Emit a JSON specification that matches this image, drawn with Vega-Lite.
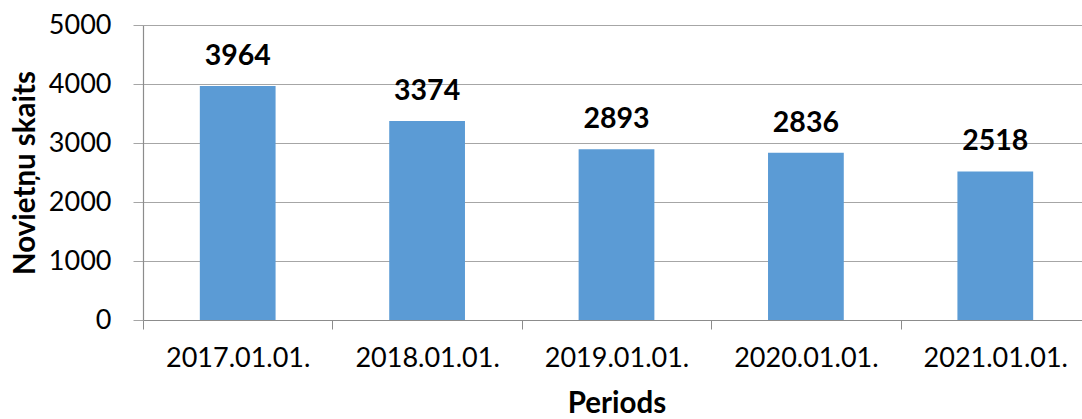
{
  "$schema": "https://vega.github.io/schema/vega-lite/v6.json",
  "autosize": "none",
  "padding": {"left": 143, "top": 25, "right": 0, "bottom": 99},
  "width": 947,
  "height": 295,
  "background": "white",
  "config": {
    "view": {"stroke": null},
    "font": "Lato"
  },
  "data": {
    "values": [
      {"period": "2017.01.01.", "count": 3964},
      {"period": "2018.01.01.", "count": 3374},
      {"period": "2019.01.01.", "count": 2893},
      {"period": "2020.01.01.", "count": 2836},
      {"period": "2021.01.01.", "count": 2518}
    ]
  },
  "encoding": {
    "x": {
      "field": "period",
      "type": "nominal",
      "sort": null,
      "scale": {"paddingInner": 0, "paddingOuter": 0},
      "axis": {
        "title": "Periods",
        "titleFont": "Lato",
        "titleFontSize": 29.5,
        "titleFontWeight": "bold",
        "titleColor": "black",
        "titlePadding": 18,
        "labelAngle": 0,
        "labelFont": "Lato",
        "labelFontSize": 27,
        "labelColor": "black",
        "labelPadding": 16,
        "tickBand": "extent",
        "tickSize": 9,
        "tickColor": "#8C8C8C",
        "domainColor": "#8C8C8C",
        "domainWidth": 1.2,
        "grid": false
      }
    },
    "y": {
      "field": "count",
      "type": "quantitative",
      "scale": {"domain": [0, 5000], "nice": false},
      "axis": {
        "title": "Novietņu skaits",
        "titleFont": "Lato",
        "titleFontSize": 29.5,
        "titleFontWeight": "bold",
        "titleColor": "black",
        "titlePadding": 8,
        "values": [0, 1000, 2000, 3000, 4000, 5000],
        "format": "d",
        "labelFont": "Lato",
        "labelFontSize": 27,
        "labelColor": "black",
        "labelPadding": 22,
        "tickSize": 10,
        "tickColor": "#A6A6A6",
        "domainColor": "#8C8C8C",
        "domainWidth": 1.2,
        "grid": true,
        "gridColor": "#A6A6A6",
        "gridWidth": 1.2
      }
    }
  },
  "layer": [
    {
      "mark": {"type": "bar", "color": "#5B9BD5", "width": {"band": 0.4}}
    },
    {
      "mark": {
        "type": "text",
        "font": "Lato",
        "fontSize": 28.5,
        "fontWeight": "bold",
        "color": "black",
        "baseline": "alphabetic",
        "dy": -21
      },
      "encoding": {"text": {"field": "count", "type": "quantitative", "format": "d"}}
    }
  ]
}
